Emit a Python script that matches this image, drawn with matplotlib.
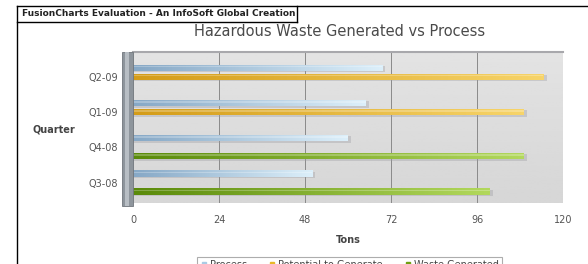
import numpy as np
import matplotlib
matplotlib.use("Agg")
import matplotlib.pyplot as plt
from matplotlib.patches import Rectangle
from matplotlib.lines import Line2D

# data
quarters = ["Q3-08", "Q4-08", "Q1-09", "Q2-09"]
process = [50, 60, 65, 69.5]
potential = [np.nan, np.nan, 109, 114.5]
waste = [99.5, 109, np.nan, np.nan]
x_ticks = [0, 24, 48, 72, 96, 120]

series = [
    ("Process", process, "#86a8c6", "#dcefFa", 0.255),
    ("Potential to Generate", potential, "#d49c18", "#f7d469", 0.0),
    ("Waste Generated", waste, "#5a8a0a", "#b2d85c", -0.255),
]

fig = plt.figure(figsize=(5.88, 2.64), dpi=100)
ax = fig.add_axes([133 / 588, 1 - 203 / 264, 430 / 588, 151 / 264])

# plot background gradient
bg = np.linspace(0.89, 0.84, 64).reshape(-1, 1)
ax.imshow(bg, extent=(0, 120, -0.58, 3.7), aspect="auto", cmap="gray",
          vmin=0, vmax=1, zorder=0)

y = np.arange(len(quarters))
bar_h = 0.18
for name, vals, c0, c1, off in series:
    cmap = matplotlib.colors.LinearSegmentedColormap.from_list(name, [c0, c1])
    bars = ax.barh(y + off, vals, height=bar_h, color=c1, zorder=3)
    for b in bars:
        w = b.get_width()
        if not np.isfinite(w) or w == 0:
            continue
        bx, by, bh = b.get_x(), b.get_y(), b.get_height()
        # soft shadow
        ax.add_patch(Rectangle((bx, by - 0.04), w + 0.9, bh, color="#9a9aa0",
                               alpha=0.35, lw=0, zorder=2))
        grad = np.linspace(0, 1, 128).reshape(1, -1)
        im = ax.imshow(grad, extent=(bx, bx + w, by, by + bh), aspect="auto",
                       cmap=cmap, zorder=4)
        im.set_clip_path(b)
        # top highlight
        ax.add_patch(Rectangle((bx, by + bh * 0.55), w, bh * 0.25, color="white",
                               alpha=0.25, lw=0, zorder=5))

ax.set_xlim(0, 120)
ax.set_ylim(-0.58, 3.7)
ax.set_xticks(x_ticks)
ax.set_yticks(y)
ax.set_yticklabels(quarters)
ax.tick_params(length=0, labelsize=7, colors="#555555")
ax.tick_params(axis="y", pad=11)
ax.tick_params(axis="x", pad=8.5)
for t in x_ticks[1:-1]:
    ax.axvline(t, color="#8a8a8a", lw=0.7, zorder=1)
for s in ax.spines.values():
    s.set_visible(False)
ax.spines["top"].set_visible(True)
ax.spines["top"].set_color("#a8a8ac")
ax.spines["top"].set_linewidth(1.5)

# left 3d wall
ax.add_patch(Rectangle((-11 / 430, -0.02), 11 / 430, 1.02, transform=ax.transAxes,
                       facecolor="#8e959c", edgecolor="#70767c", lw=0.6,
                       clip_on=False, zorder=6))
ax.add_patch(Rectangle((-8 / 430, -0.02), 4 / 430, 1.02, transform=ax.transAxes,
                       facecolor="#b8bec4", lw=0, clip_on=False, zorder=7))

ax.set_xlabel("Tons", fontsize=7, fontweight="bold", color="#444444", labelpad=7)
fig.text(54 / 588, 1 - 129 / 264, "Quarter", fontsize=7, fontweight="bold",
         color="#444444", ha="center", va="center")

fig.text(340 / 588, 1 - 31 / 264, "Hazardous Waste Generated vs Process",
         fontsize=10.5, color="#4a4a4a", ha="center", va="center")

# evaluation banner and frame lines
fig.add_artist(Line2D([17 / 588, 1], [1 - 6 / 264, 1 - 6 / 264], color="black", lw=1))
fig.add_artist(Line2D([17 / 588, 17 / 588], [0, 1 - 6 / 264], color="black", lw=1))
fig.add_artist(Line2D([17 / 588, 297 / 588], [1 - 22 / 264, 1 - 22 / 264], color="black", lw=1))
fig.add_artist(Line2D([297 / 588, 297 / 588], [1 - 22 / 264, 1 - 6 / 264], color="black", lw=1))
fig.text(22 / 588, 1 - 14 / 264, "FusionCharts Evaluation - An InfoSoft Global Creation",
         fontsize=6.5, fontweight="bold", color="#222222", va="center")

handles = [Line2D([], [], marker="s", ls="", markersize=3, color=c)
           for c in ["#a9cbe4", "#e8b828", "#6f9f12"]]
leg = fig.legend(handles, [s[0] for s in series], ncol=3, fontsize=7,
                 loc="upper center", bbox_to_anchor=(349.5 / 588, 1 - 252 / 264),
                 frameon=True, fancybox=False, handletextpad=0.2, columnspacing=2.2,
                 borderpad=0.3, handlelength=0.8)
leg.get_frame().set_edgecolor("#999999")
leg.get_frame().set_linewidth(0.8)
for t in leg.get_texts():
    t.set_color("#444444")

fig.savefig("out.png", dpi=100)
